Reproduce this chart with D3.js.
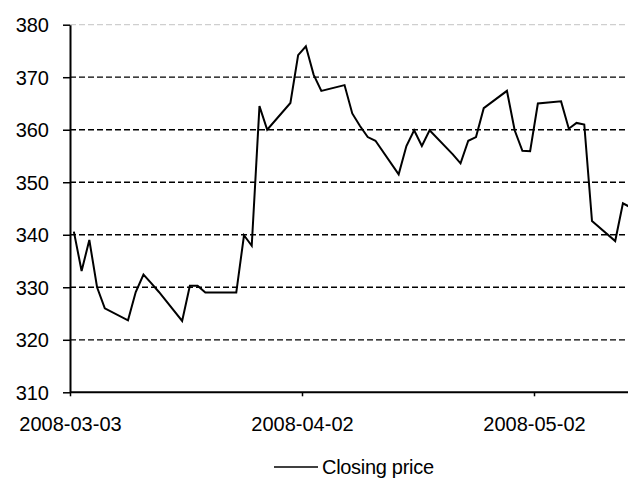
<!DOCTYPE html>
<html>
<head>
<meta charset="utf-8">
<script src="https://cdn.jsdelivr.net/npm/d3@7"></script>
<style>
  body { margin: 0; background: #fff; }
  svg { display: block; font-family: "Liberation Sans", Arial, sans-serif; }
  .tick text { font-size: 20px; fill: #000; }
</style>
</head>
<body>
<svg id="chart" width="628" height="479"></svg>
<script>
// closing prices
const dates = [
  "2008-03-03", "2008-03-04", "2008-03-05", "2008-03-06", "2008-03-07",
  "2008-03-10", "2008-03-11", "2008-03-12", "2008-03-13", "2008-03-14",
  "2008-03-17", "2008-03-18", "2008-03-19", "2008-03-20", "2008-03-24",
  "2008-03-25", "2008-03-26", "2008-03-27", "2008-03-28", "2008-03-31",
  "2008-04-01", "2008-04-02", "2008-04-03", "2008-04-04", "2008-04-07",
  "2008-04-08", "2008-04-09", "2008-04-10", "2008-04-11", "2008-04-14",
  "2008-04-15", "2008-04-16", "2008-04-17", "2008-04-18", "2008-04-21",
  "2008-04-22", "2008-04-23", "2008-04-24", "2008-04-25", "2008-04-28",
  "2008-04-29", "2008-04-30", "2008-05-01", "2008-05-02", "2008-05-05",
  "2008-05-06", "2008-05-07", "2008-05-08", "2008-05-09", "2008-05-12",
  "2008-05-13", "2008-05-14"
];
const closing = [
  340.6, 333.1, 339.0, 330.0, 326.0,
  323.7, 329.1, 332.4, 330.8, 329.1,
  323.6, 330.3, 330.3, 329.0, 329.0,
  339.9, 337.9, 364.5, 360.0, 365.1,
  374.2, 375.9, 370.5, 367.4, 368.5,
  363.1, 360.7, 358.6, 357.9, 351.5,
  356.9, 359.9, 356.9, 359.9, 355.3,
  353.6, 357.9, 358.6, 364.1, 367.4,
  359.9, 356.0, 355.9, 365.0, 365.4,
  360.2, 361.3, 361.0, 342.6, 338.8,
  346.0, 345.2
];
const yTicks = [310, 320, 330, 340, 350, 360, 370, 380];
const xTicks = ["2008-03-03", "2008-04-02", "2008-05-02"];
const seriesName = "Closing price";

const parseDate = d3.utcParse("%Y-%m-%d");
const formatDate = d3.utcFormat("%Y-%m-%d");

const svg = d3.select("#chart");
const plotLeft = 70, plotTop = 24.7, plotBottom = 392.3, plotRight = 628;

// date axis: each point sits in the middle of its day
const x = d3.scaleUtc()
  .domain([parseDate("2008-03-03"), parseDate("2008-04-02")])
  .range([plotLeft, 302]);
const y = d3.scaleLinear().domain([310, 380]).range([plotBottom, plotTop]);

const data = dates.map((d, i) => ({ date: d3.utcHour.offset(parseDate(d), 12), value: closing[i] }));

// gridlines
svg.append("g")
  .selectAll("line")
  .data(yTicks.filter(v => v > 310))
  .join("line")
  .attr("x1", plotLeft)
  .attr("x2", plotRight)
  .attr("y1", d => y(d))
  .attr("y2", d => y(d))
  .attr("stroke", d => d === 380 ? "#cfcfcf" : "#000")
  .attr("stroke-width", 1.3)
  .attr("stroke-dasharray", "6,3");

const line = d3.line()
  .x(d => x(d.date))
  .y(d => y(d.value));

svg.append("path")
  .datum(data)
  .attr("fill", "none")
  .attr("stroke", "#000")
  .attr("stroke-width", 2)
  .attr("stroke-linejoin", "miter")
  .attr("d", line);

// y axis
const yAxis = svg.append("g")
  .attr("transform", `translate(${plotLeft},0)`)
  .call(d3.axisLeft(y).tickValues(yTicks).tickSize(7).tickSizeOuter(0).tickPadding(14));
yAxis.select(".domain").attr("stroke-width", 2);
yAxis.selectAll(".tick line").attr("stroke-width", 1.5);
yAxis.selectAll(".tick text").attr("dy", "0.36em");

// x axis
const xAxis = svg.append("g")
  .attr("transform", `translate(0,${plotBottom})`)
  .call(d3.axisBottom(x)
    .tickValues(xTicks.map(parseDate))
    .tickFormat(formatDate)
    .tickSize(4)
    .tickSizeOuter(0)
    .tickPadding(21));
xAxis.select(".domain").attr("d", `M${plotLeft},0H${plotRight}`).attr("stroke-width", 2);
xAxis.selectAll(".tick line").attr("stroke-width", 1.5);

// legend
const legend = svg.append("g").attr("transform", "translate(274,467)");
legend.append("line")
  .attr("x1", 0).attr("x2", 44)
  .attr("stroke", "#000").attr("stroke-width", 1.5);
legend.append("text")
  .attr("x", 48)
  .attr("dy", "0.36em")
  .attr("font-size", 20)
  .attr("letter-spacing", -0.3)
  .text(seriesName);
</script>
</body>
</html>
